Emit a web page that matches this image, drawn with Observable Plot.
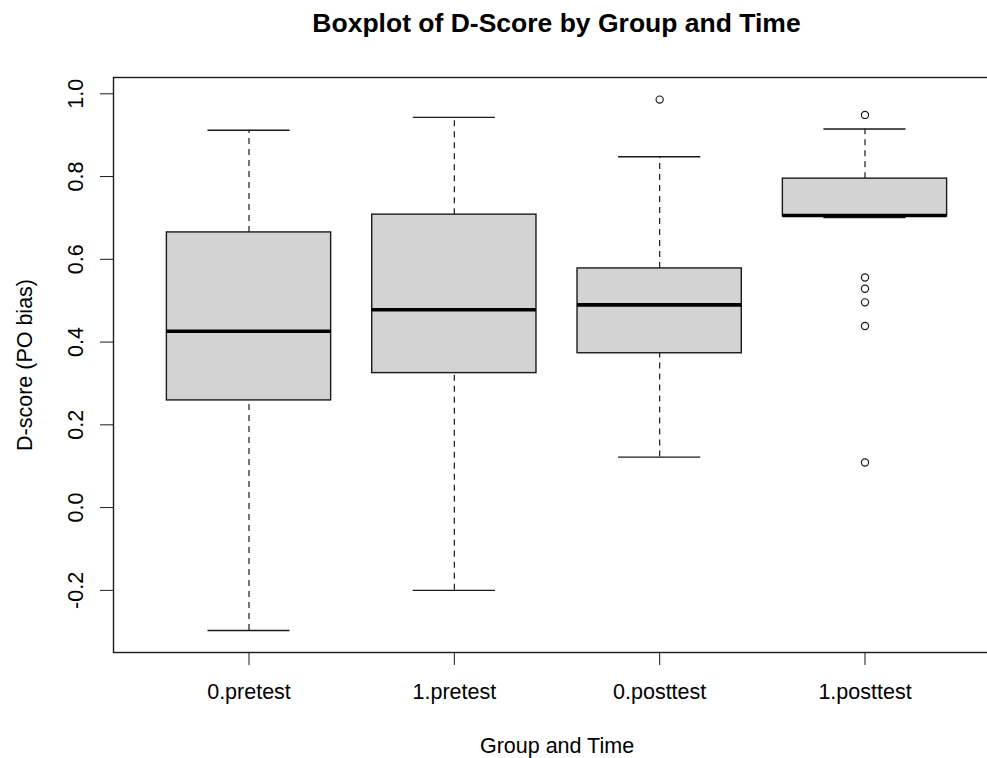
<!DOCTYPE html>
<html>
<head>
<meta charset="utf-8">
<script src="https://cdn.jsdelivr.net/npm/d3@7"></script>
<script src="https://cdn.jsdelivr.net/npm/@observablehq/plot@0.6"></script>
<style>
  html, body { margin: 0; padding: 0; background: #fff; overflow: hidden; width: 987px; height: 758px; }
  #wrap { position: relative; width: 987px; height: 758px; overflow: hidden; font-family: "Liberation Sans", Arial, sans-serif; }
  #title { position: absolute; left: 113px; top: 10px; width: 887px; text-align: center; font-weight: bold; font-size: 26.5px; line-height: 26px; color: #000; white-space: nowrap; }
  #chart { position: absolute; left: 0; top: 50px; width: 1000px; height: 708px; }
  #chart svg { max-width: none !important; }
</style>
</head>
<body>
<div id="wrap">
  <div id="title">Boxplot of D-Score by Group and Time</div>
  <div id="chart"></div>
</div>
<script>
// Group labels (x categories)
const groups = ["0.pretest", "1.pretest", "0.posttest", "1.posttest"];
// Five-number summaries
const whiskerLow  = [-0.297, -0.200, 0.122, 0.701];
const q1          = [ 0.259,  0.325, 0.373, 0.704];
const median      = [ 0.426,  0.478, 0.490, 0.706];
const q3          = [ 0.665,  0.708, 0.578, 0.795];
const whiskerHigh = [ 0.912,  0.943, 0.848, 0.915];
// Outliers
const outliers0posttest = [0.986];
const outliers1posttest = [0.949, 0.556, 0.529, 0.496, 0.439, 0.109];
// Axis ticks
const yTicks = [-0.2, 0.0, 0.2, 0.4, 0.6, 0.8, 1.0];

const boxes = groups.map((g, i) => ({
  group: g, pos: i + 1,
  lo: whiskerLow[i], q1: q1[i], med: median[i], q3: q3[i], hi: whiskerHigh[i]
}));
const outlierPts = [
  ...outliers0posttest.map(v => ({pos: 3, value: v})),
  ...outliers1posttest.map(v => ({pos: 4, value: v}))
];

const halfBox = 0.4, halfStaple = 0.2;
const ink = "#1a1a1a";

const chart = Plot.plot({
  width: 1000,
  height: 708,
  marginLeft: 113,
  marginRight: 0,
  marginTop: 27,
  marginBottom: 106,
  style: {fontFamily: "'Liberation Sans', Arial, sans-serif", fontSize: "21.5px", color: "#000", background: "#fff", maxWidth: "none"},
  x: {domain: [0.34, 4.66], axis: null},
  y: {domain: [-0.3502, 1.0394], axis: null},
  marks: [
    // whiskers (dashed)
    Plot.ruleX(boxes, {x: "pos", y1: "q3", y2: "hi", stroke: ink, strokeWidth: 1.2, strokeDasharray: "6,5"}),
    Plot.ruleX(boxes, {x: "pos", y1: "lo", y2: "q1", stroke: ink, strokeWidth: 1.2, strokeDasharray: "6,5"}),
    // staples
    Plot.ruleY(boxes, {y: "hi", x1: d => d.pos - halfStaple, x2: d => d.pos + halfStaple, stroke: ink, strokeWidth: 1.4}),
    Plot.ruleY(boxes, {y: "lo", x1: d => d.pos - halfStaple, x2: d => d.pos + halfStaple, stroke: ink, strokeWidth: 1.4}),
    // boxes
    Plot.rect(boxes, {x1: d => d.pos - halfBox, x2: d => d.pos + halfBox, y1: "q1", y2: "q3", fill: "#d3d3d3", stroke: ink, strokeWidth: 1.4}),
    // medians
    Plot.ruleY(boxes, {y: "med", x1: d => d.pos - halfBox, x2: d => d.pos + halfBox, stroke: "#000", strokeWidth: 3.6}),
    // outliers
    Plot.dot(outlierPts, {x: "pos", y: "value", r: 3.6, stroke: ink, fill: "white", strokeWidth: 1.2}),
    // axes
    Plot.axisX({ticks: [1, 2, 3, 4], tickFormat: d => groups[d - 1], tickSize: 13, tickPadding: 18, label: null, stroke: ink, fontSize: 21.5}),
    Plot.axisY({ticks: yTicks, tickFormat: d => d.toFixed(1), tickSize: 13, tickPadding: 18, tickRotate: -90, label: null, stroke: ink, fontSize: 21.5}),
    // axis titles
    Plot.text(["Group and Time"], {frameAnchor: "bottom", dy: 94, textAnchor: "middle", lineAnchor: "middle", fontSize: 21.5, fill: "#000"}),
    Plot.text(["D-score (PO bias)"], {frameAnchor: "left", dx: -88, rotate: -90, textAnchor: "middle", lineAnchor: "middle", fontSize: 21.5, fill: "#000"}),
    Plot.frame({stroke: ink, strokeWidth: 1.4})
  ]
});
document.getElementById("chart").appendChild(chart);
</script>
</body>
</html>
